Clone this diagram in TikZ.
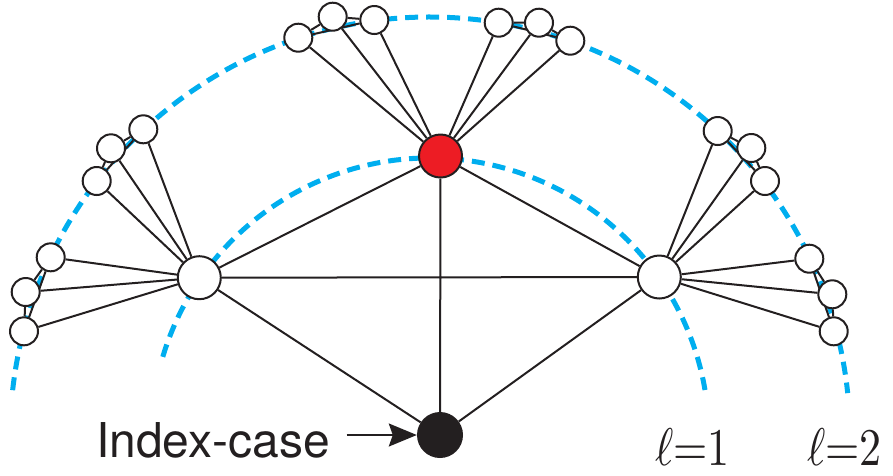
\documentclass[tikz,border=0pt]{standalone}
\usepackage{graphicx}
\usepackage{fontspec}
\newfontfamily\labelfont{TeX Gyre Heros}
\usetikzlibrary{arrows.meta,backgrounds}
\definecolor{ink}{RGB}{35,31,32}
\definecolor{arccyan}{RGB}{0,174,239}
\definecolor{nodered}{RGB}{237,28,36}
\begin{document}
\begin{tikzpicture}[x=1pt,y=-1pt,
  small/.style={circle,draw=ink,fill=white,line width=2pt,minimum size=28pt,inner sep=0pt},
  big/.style={circle,draw=ink,fill=white,line width=2pt,minimum size=43pt,inner sep=0pt},
  edge/.style={draw=ink,line width=2pt},
  ring/.style={draw=arccyan,line width=5pt,dash pattern=on 13pt off 8pt}]
\useasboundingbox (0,0) rectangle (893,475);
% main nodes
\node[big,fill=nodered] (R) at (440.5,156) {};
\node[big] (L) at (199.3,277.7) {};
\node[big] (Rt) at (659.3,277) {};
\node[circle,fill=ink,minimum size=46pt,inner sep=0pt] (I) at (440,435) {};
% top-left cluster
\node[small] (ta1) at (298.3,37.7) {};
\node[small] (ta2) at (332.7,16.7) {};
\node[small] (ta3) at (374.3,20) {};
% top-right cluster
\node[small] (tb1) at (498.7,22.7) {};
\node[small] (tb2) at (539,22.7) {};
\node[small] (tb3) at (570.3,40.7) {};
% left clusters
\node[small] (la1) at (143.3,129.3) {};
\node[small] (la2) at (111,148.3) {};
\node[small] (la3) at (96.7,181) {};
\node[small] (lb1) at (50.7,257.3) {};
\node[small] (lb2) at (25.7,292) {};
\node[small] (lb3) at (24,331.3) {};
% right clusters
\node[small] (ra1) at (717.7,131) {};
\node[small] (ra2) at (751.3,148) {};
\node[small] (ra3) at (765,181) {};
\node[small] (rb1) at (809.3,258.7) {};
\node[small] (rb2) at (832.3,294.3) {};
\node[small] (rb3) at (833.7,331.3) {};
\begin{scope}[on background layer]
  \coordinate (O) at (430,437);
  \draw[ring] (O) ++(-163.3:279) arc[start angle=-163.3,end angle=-8.7,radius=279];
  \draw[ring] (O) ++(-173.6:420) arc[start angle=-173.6,end angle=-6.0,radius=420];
  \draw[edge] (I) -- (L) (I) -- (R) (I) -- (Rt)
              (L) -- (R) (L) -- (Rt) (R) -- (Rt);
  \foreach \n in {ta1,ta2,ta3,tb1,tb2,tb3} \draw[edge] (R) -- (\n);
  \foreach \n in {la1,la2,la3,lb1,lb2,lb3} \draw[edge] (L) -- (\n);
  \foreach \n in {ra1,ra2,ra3,rb1,rb2,rb3} \draw[edge] (Rt) -- (\n);
  \foreach \c in {ta,tb,la,lb,ra,rb}
    \draw[edge] (\c1) -- (\c2) (\c2) -- (\c3) (\c1) -- (\c3);
\end{scope}
% labels
\node[anchor=base west,inner sep=0pt,font=\labelfont\fontsize{48}{48}\selectfont,text=ink] (lbl) at (96,457) {Index-case};
\coordinate (arrowstart) at (346.7,435);
\draw[edge,-{Stealth[length=28pt,width=23pt,inset=4pt]}] (arrowstart) -- (I.west);
\node[anchor=base west,inner sep=0pt,text=ink] (l1) at (655,465) {\scalebox{4.4}[5.3]{$\ell{=}1$}};
\node[anchor=base west,inner sep=0pt,text=ink] (l2) at (807,465) {\scalebox{4.4}[5.3]{$\ell{=}2$}};
\end{tikzpicture}
\end{document}
